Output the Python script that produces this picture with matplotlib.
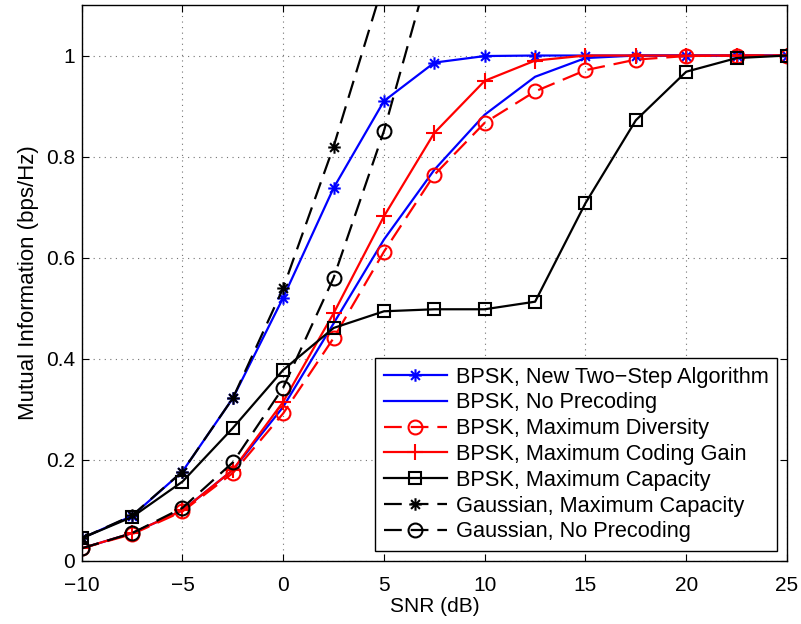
import numpy as np
import matplotlib
matplotlib.use('Agg')
import matplotlib.pyplot as plt
from matplotlib.path import Path

plt.rcParams['font.family'] = ['Liberation Sans', 'DejaVu Sans']

# SNR points (dB)
snr = [-10, -7.5, -5, -2.5, 0, 2.5, 5, 7.5, 10, 12.5, 15, 17.5, 20, 22.5, 25]

bpsk_two_step = [0.045, 0.089, 0.177, 0.322, 0.521, 0.738, 0.910, 0.986, 0.999, 1.0, 1.0, 1.0, 1.0, 1.0, 1.0]
bpsk_no_prec = [0.025, 0.055, 0.100, 0.180, 0.305, 0.470, 0.636, 0.774, 0.883, 0.958, 0.995, 1.0, 1.0, 1.0, 1.0]
bpsk_max_div = [0.025, 0.053, 0.098, 0.174, 0.292, 0.441, 0.612, 0.764, 0.867, 0.929, 0.971, 0.992, 0.999, 1.0, 1.0]
bpsk_max_cg = [0.025, 0.055, 0.100, 0.180, 0.315, 0.490, 0.682, 0.847, 0.950, 0.990, 1.0, 1.0, 1.0, 1.0, 1.0]
bpsk_max_cap = [0.045, 0.087, 0.157, 0.263, 0.378, 0.461, 0.494, 0.498, 0.498, 0.513, 0.708, 0.872, 0.968, 0.995, 1.0]

# Gaussian curves leave the plot area after a few points
snr_gauss_cap = [-10, -7.5, -5, -2.5, 0, 2.5, 5]
gauss_max_cap = [0.045, 0.090, 0.177, 0.322, 0.540, 0.820, 1.147]
snr_gauss_np = [-10, -7.5, -5, -2.5, 0, 2.5, 5, 7.5]
gauss_no_prec = [0.025, 0.055, 0.105, 0.195, 0.343, 0.560, 0.851, 1.208]

labels = ['BPSK, New Two\u2212Step Algorithm', 'BPSK, No Precoding',
          'BPSK, Maximum Diversity', 'BPSK, Maximum Coding Gain',
          'BPSK, Maximum Capacity', 'Gaussian, Maximum Capacity',
          'Gaussian, No Precoding']

# MATLAB style asterisk marker (plus + cross)
r = np.sqrt(0.5)
ast = Path([(-1, 0), (1, 0), (0, -1), (0, 1), (-r, -r), (r, r), (-r, r), (r, -r)],
           [Path.MOVETO, Path.LINETO] * 4)

dash = (0, (8, 4))
lw = 1.6

fig = plt.figure(figsize=(8.01, 6.24), dpi=100)
ax = fig.add_axes([0.1020, 0.101, 0.8805, 0.891])

ax.plot(snr, bpsk_two_step, color='blue', lw=lw, marker=ast, ms=9, mew=1.5,
        mfc='none', label=labels[0])
ax.plot(snr, bpsk_no_prec, color='blue', lw=lw, label=labels[1])
ax.plot(snr, bpsk_max_div, color='red', lw=lw, ls=dash, marker='o', ms=10, mew=1.5,
        mfc='none', label=labels[2])
ax.plot(snr, bpsk_max_cg, color='red', lw=lw, marker='+', ms=11, mew=1.5,
        label=labels[3])
ax.plot(snr, bpsk_max_cap, color='black', lw=lw, marker='s', ms=8, mew=1.5,
        mfc='none', label=labels[4])
ax.plot(snr_gauss_cap, gauss_max_cap, color='black', lw=lw, ls=dash, marker=ast, ms=9,
        mew=1.5, mfc='none', label=labels[5])
ax.plot(snr_gauss_np, gauss_no_prec, color='black', lw=lw, ls=dash, marker='o', ms=10,
        mew=1.5, mfc='none', label=labels[6])

ax.set_xlim(-10, 25)
ax.set_ylim(0, 1.1)
ax.set_xticks(np.arange(-10, 26, 5))
ax.set_yticks([0, 0.2, 0.4, 0.6, 0.8, 1.0])
ax.set_yticklabels(['0', '0.2', '0.4', '0.6', '0.8', '1'])
ax.tick_params(direction='in', top=True, right=True, labelsize=15, length=5)
ax.tick_params(axis='x', pad=11)
ax.tick_params(axis='y', pad=5)
ax.grid(True, ls=(0, (1, 4)), color='0.45', lw=0.8)
for s in ax.spines.values():
    s.set_linewidth(1.0)

ax.set_xlabel('SNR (dB)', fontsize=15, labelpad=1)
ax.set_ylabel('Mutual Information (bps/Hz)', fontsize=16, labelpad=5)

leg = ax.legend(loc='lower right', fontsize=15.7, handlelength=2.9, handletextpad=0.4,
                labelspacing=0.22, borderpad=0.4, borderaxespad=0.45, fancybox=False,
                framealpha=1, edgecolor='black')
leg.get_frame().set_linewidth(1.0)

fig.savefig('out.png', dpi=100)
